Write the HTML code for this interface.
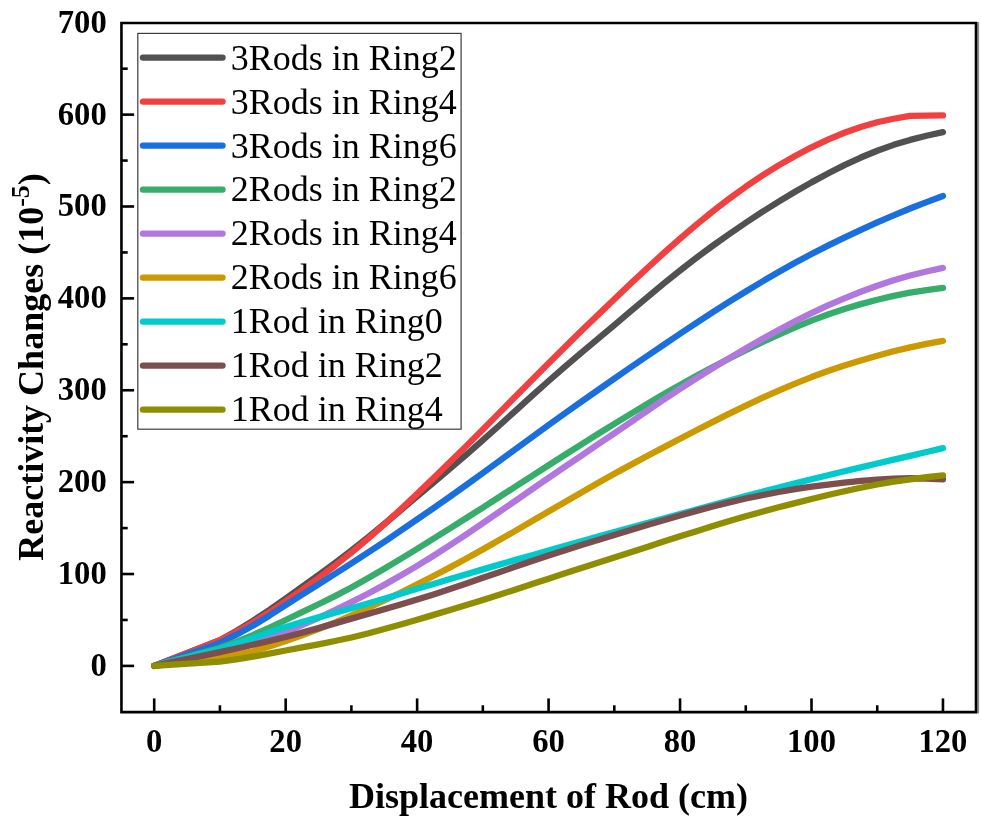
<!DOCTYPE html>
<html><head><meta charset="utf-8"><title>Reactivity Changes</title>
<style>
html,body{margin:0;padding:0;background:#fff;}
body{width:982px;height:822px;overflow:hidden;}
svg{display:block;}
text{font-family:"Liberation Serif","Times New Roman",serif;fill:#000;}
.tk{font-size:32px;font-weight:bold;}
.tt{font-size:36px;font-weight:bold;}
.lg{font-size:36px;}
</style></head><body>
<svg width="982" height="822" viewBox="0 0 982 822">
<rect x="0" y="0" width="982" height="822" fill="#ffffff"/>

<g fill="none" stroke-width="6.30" stroke-linecap="round" stroke-linejoin="round">
<path stroke="#515151" d="M154.20 665.90 L219.93 640.21 L236.36 630.88 L252.79 620.94 L269.23 610.00 L285.66 598.46 L302.09 586.84 L318.52 575.10 L334.96 563.06 L351.39 550.57 L367.82 537.51 L384.25 524.00 L400.69 510.22 L417.12 496.35 L433.55 482.50 L449.99 468.60 L466.42 454.54 L482.85 440.19 L499.28 425.49 L515.72 410.58 L532.15 395.69 L548.58 381.02 L565.01 366.72 L581.44 352.72 L597.88 338.88 L614.31 325.05 L630.74 311.15 L647.17 297.31 L663.61 283.68 L680.04 270.46 L696.47 257.77 L712.90 245.61 L729.34 233.95 L745.77 222.75 L762.20 211.98 L778.63 201.66 L795.07 191.79 L811.50 182.38 L827.93 173.46 L844.37 165.13 L860.80 157.52 L877.23 150.72 L893.66 144.85 L910.10 139.90 L926.53 135.77 L942.96 132.10"/>
<path stroke="#F14040" d="M154.20 665.90 L219.93 640.21 L236.36 631.67 L252.79 622.50 L269.23 612.25 L285.66 601.22 L302.09 589.80 L318.52 577.98 L334.96 565.62 L351.39 552.59 L367.82 538.80 L384.25 524.33 L400.69 509.31 L417.12 493.87 L433.55 478.12 L449.99 462.11 L466.42 445.88 L482.85 429.46 L499.28 412.90 L515.72 396.28 L532.15 379.69 L548.58 363.22 L565.01 346.94 L581.44 330.85 L597.88 314.94 L614.31 299.18 L630.74 283.57 L647.17 268.20 L663.61 253.18 L680.04 238.62 L696.47 224.62 L712.90 211.26 L729.34 198.59 L745.77 186.69 L762.20 175.61 L778.63 165.36 L795.07 155.93 L811.50 147.33 L827.93 139.57 L844.37 132.73 L860.80 126.93 L877.23 122.28 L893.66 118.76 L910.10 115.86 L942.96 115.40"/>
<path stroke="#1A6FDF" d="M154.20 665.90 L219.93 642.96 L236.36 634.66 L252.79 625.71 L269.23 615.71 L285.66 605.16 L302.09 594.68 L318.52 584.30 L334.96 573.92 L351.39 563.42 L367.82 552.71 L384.25 541.80 L400.69 530.71 L417.12 519.47 L433.55 508.08 L449.99 496.55 L466.42 484.87 L482.85 473.04 L499.28 461.07 L515.72 449.03 L532.15 437.00 L548.58 425.06 L565.01 413.26 L581.44 401.61 L597.88 390.07 L614.31 378.63 L630.74 367.26 L647.17 355.99 L663.61 344.81 L680.04 333.76 L696.47 322.87 L712.90 312.15 L729.34 301.67 L745.77 291.47 L762.20 281.58 L778.63 272.02 L795.07 262.84 L811.50 254.03 L827.93 245.63 L844.37 237.60 L860.80 229.89 L877.23 222.47 L893.66 215.32 L910.10 208.53 L926.53 202.13 L942.96 195.96"/>
<path stroke="#37AD6B" d="M154.20 665.90 L219.93 647.73 L236.36 641.63 L252.79 635.07 L269.23 627.77 L285.66 620.02 L302.09 612.21 L318.52 604.27 L334.96 596.06 L351.39 587.45 L367.82 578.34 L384.25 568.78 L400.69 558.91 L417.12 548.83 L433.55 538.64 L449.99 528.36 L466.42 518.00 L482.85 507.54 L499.28 497.00 L515.72 486.41 L532.15 475.81 L548.58 465.24 L565.01 454.75 L581.44 444.34 L597.88 434.04 L614.31 423.86 L630.74 413.83 L647.17 403.97 L663.61 394.34 L680.04 384.96 L696.47 375.88 L712.90 367.08 L729.34 358.55 L745.77 350.28 L762.20 342.27 L778.63 334.59 L795.07 327.35 L811.50 320.64 L827.93 314.54 L844.37 309.04 L860.80 304.11 L877.23 299.73 L893.66 295.87 L910.10 292.66 L926.53 290.13 L942.96 287.98"/>
<path stroke="#B177DE" d="M154.20 665.90 L219.93 654.43 L236.36 649.58 L252.79 644.34 L269.23 638.43 L285.66 631.95 L302.09 625.07 L318.52 617.81 L334.96 610.17 L351.39 602.13 L367.82 593.70 L384.25 584.87 L400.69 575.60 L417.12 565.89 L433.55 555.74 L449.99 545.20 L466.42 534.34 L482.85 523.23 L499.28 511.93 L515.72 500.54 L532.15 489.14 L548.58 477.81 L565.01 466.63 L581.44 455.53 L597.88 444.45 L614.31 433.31 L630.74 422.08 L647.17 410.84 L663.61 399.71 L680.04 388.81 L696.47 378.25 L712.90 368.02 L729.34 358.10 L745.77 348.44 L762.20 339.06 L778.63 330.00 L795.07 321.33 L811.50 313.12 L827.93 305.44 L844.37 298.30 L860.80 291.71 L877.23 285.69 L893.66 280.25 L910.10 275.50 L926.53 271.49 L942.96 267.89"/>
<path stroke="#CC9900" d="M154.20 665.90 L219.93 658.10 L236.36 654.94 L252.79 651.22 L269.23 646.55 L285.66 641.13 L302.09 635.24 L318.52 628.96 L334.96 622.32 L351.39 615.35 L367.82 608.05 L384.25 600.46 L400.69 592.58 L417.12 584.43 L433.55 576.02 L449.99 567.37 L466.42 558.48 L482.85 549.38 L499.28 540.07 L515.72 530.62 L532.15 521.07 L548.58 511.48 L565.01 501.92 L581.44 492.43 L597.88 483.06 L614.31 473.87 L630.74 464.88 L647.17 456.08 L663.61 447.40 L680.04 438.82 L696.47 430.29 L712.90 421.87 L729.34 413.62 L745.77 405.61 L762.20 397.89 L778.63 390.52 L795.07 383.56 L811.50 377.07 L827.93 371.08 L844.37 365.55 L860.80 360.44 L877.23 355.69 L893.66 351.29 L910.10 347.34 L926.53 343.93 L942.96 340.83"/>
<path stroke="#00CBCC" d="M154.20 665.90 L219.93 648.93 L236.36 643.63 L252.79 638.19 L269.23 632.57 L285.66 627.09 L302.09 622.05 L318.52 617.35 L334.96 612.83 L351.39 608.28 L367.82 603.57 L384.25 598.72 L400.69 593.78 L417.12 588.83 L433.55 583.91 L449.99 579.03 L466.42 574.18 L482.85 569.38 L499.28 564.61 L515.72 559.87 L532.15 555.16 L548.58 550.48 L565.01 545.81 L581.44 541.18 L597.88 536.58 L614.31 532.04 L630.74 527.55 L647.17 523.09 L663.61 518.63 L680.04 514.15 L696.47 509.61 L712.90 505.05 L729.34 500.52 L745.77 496.07 L762.20 491.73 L778.63 487.50 L795.07 483.36 L811.50 479.28 L827.93 475.25 L844.37 471.28 L860.80 467.36 L877.23 463.50 L893.66 459.69 L910.10 455.88 L926.53 452.04 L942.96 448.18"/>
<path stroke="#7D4E4E" d="M154.20 665.90 L219.93 652.14 L236.36 648.49 L252.79 644.80 L269.23 641.01 L285.66 637.00 L302.09 632.67 L318.52 628.10 L334.96 623.38 L351.39 618.65 L367.82 613.97 L384.25 609.28 L400.69 604.51 L417.12 599.56 L433.55 594.38 L449.99 588.98 L466.42 583.45 L482.85 577.82 L499.28 572.17 L515.72 566.53 L532.15 560.97 L548.58 555.52 L565.01 550.23 L581.44 545.07 L597.88 539.99 L614.31 534.97 L630.74 529.98 L647.17 525.03 L663.61 520.17 L680.04 515.43 L696.47 510.85 L712.90 506.47 L729.34 502.35 L745.77 498.55 L762.20 495.10 L778.63 491.99 L795.07 489.20 L811.50 486.71 L827.93 484.51 L844.37 482.59 L860.80 480.97 L877.23 479.65 L893.66 478.68 L910.10 478.27 L926.53 478.57 L942.96 479.28"/>
<path stroke="#8E8E00" d="M154.20 665.90 L219.93 661.68 L236.36 659.33 L252.79 656.73 L269.23 653.69 L285.66 650.49 L302.09 647.38 L318.52 644.28 L334.96 641.03 L351.39 637.46 L367.82 633.44 L384.25 629.05 L400.69 624.42 L417.12 619.66 L433.55 614.87 L449.99 610.03 L466.42 605.09 L482.85 600.02 L499.28 594.79 L515.72 589.44 L532.15 584.03 L548.58 578.65 L565.01 573.33 L581.44 568.06 L597.88 562.81 L614.31 557.54 L630.74 552.25 L647.17 546.93 L663.61 541.62 L680.04 536.35 L696.47 531.13 L712.90 526.02 L729.34 521.04 L745.77 516.26 L762.20 511.68 L778.63 507.30 L795.07 503.09 L811.50 499.01 L827.93 495.04 L844.37 491.26 L860.80 487.72 L877.23 484.51 L893.66 481.69 L910.10 479.28 L926.53 477.25 L942.96 475.43"/>
</g>
<rect x="977.2" y="22.0" width="1.9" height="691.4" fill="#8c8c8c"/>
<g stroke="#000" stroke-width="2.60" fill="none" stroke-linecap="butt">
<path d="M121.45 23.00 H976.00 V712.10 H121.45 Z"/>
<path d="M154.20 712.10 V698.40"/>
<path d="M219.93 712.10 V705.30"/>
<path d="M285.66 712.10 V698.40"/>
<path d="M351.39 712.10 V705.30"/>
<path d="M417.12 712.10 V698.40"/>
<path d="M482.85 712.10 V705.30"/>
<path d="M548.58 712.10 V698.40"/>
<path d="M614.31 712.10 V705.30"/>
<path d="M680.04 712.10 V698.40"/>
<path d="M745.77 712.10 V705.30"/>
<path d="M811.50 712.10 V698.40"/>
<path d="M877.23 712.10 V705.30"/>
<path d="M942.96 712.10 V698.40"/>
<path d="M121.45 665.90 H134.10"/>
<path d="M121.45 619.96 H127.70"/>
<path d="M121.45 574.02 H134.10"/>
<path d="M121.45 528.08 H127.70"/>
<path d="M121.45 482.14 H134.10"/>
<path d="M121.45 436.20 H127.70"/>
<path d="M121.45 390.26 H134.10"/>
<path d="M121.45 344.32 H127.70"/>
<path d="M121.45 298.38 H134.10"/>
<path d="M121.45 252.44 H127.70"/>
<path d="M121.45 206.50 H134.10"/>
<path d="M121.45 160.56 H127.70"/>
<path d="M121.45 114.62 H134.10"/>
<path d="M121.45 68.68 H127.70"/>
</g>
<text class="tk" transform="translate(154.20 751.8) scale(1.02 1.045)" text-anchor="middle">0</text>
<text class="tk" transform="translate(285.66 751.8) scale(1.02 1.045)" text-anchor="middle">20</text>
<text class="tk" transform="translate(417.12 751.8) scale(1.02 1.045)" text-anchor="middle">40</text>
<text class="tk" transform="translate(548.58 751.8) scale(1.02 1.045)" text-anchor="middle">60</text>
<text class="tk" transform="translate(680.04 751.8) scale(1.02 1.045)" text-anchor="middle">80</text>
<text class="tk" transform="translate(811.50 751.8) scale(1.02 1.045)" text-anchor="middle">100</text>
<text class="tk" transform="translate(942.96 751.8) scale(1.02 1.045)" text-anchor="middle">120</text>
<text class="tk" transform="translate(106.7 675.80) scale(1.02 1.045)" text-anchor="end">0</text>
<text class="tk" transform="translate(106.7 583.92) scale(1.02 1.045)" text-anchor="end">100</text>
<text class="tk" transform="translate(106.7 492.04) scale(1.02 1.045)" text-anchor="end">200</text>
<text class="tk" transform="translate(106.7 400.16) scale(1.02 1.045)" text-anchor="end">300</text>
<text class="tk" transform="translate(106.7 308.28) scale(1.02 1.045)" text-anchor="end">400</text>
<text class="tk" transform="translate(106.7 216.40) scale(1.02 1.045)" text-anchor="end">500</text>
<text class="tk" transform="translate(106.7 124.52) scale(1.02 1.045)" text-anchor="end">600</text>
<text class="tk" transform="translate(106.7 32.64) scale(1.02 1.045)" text-anchor="end">700</text>
<text class="tt" x="548.5" y="808.4" text-anchor="middle">Displacement of Rod (cm)</text>
<text class="tt" transform="translate(42.5 367) rotate(-90)" text-anchor="middle">Reactivity Changes (10<tspan font-size="26" dy="-14">-5</tspan><tspan dy="14">)</tspan></text>
<rect x="137.8" y="33.4" width="323.3" height="395.8" fill="#fff" stroke="#3c3c3c" stroke-width="1.2"/>
<g stroke-width="6.4" stroke-linecap="round">
<path stroke="#515151" d="M143 57.60 H222.5"/>
<path stroke="#F14040" d="M143 101.60 H222.5"/>
<path stroke="#1A6FDF" d="M143 145.60 H222.5"/>
<path stroke="#37AD6B" d="M143 189.60 H222.5"/>
<path stroke="#B177DE" d="M143 233.60 H222.5"/>
<path stroke="#CC9900" d="M143 277.60 H222.5"/>
<path stroke="#00CBCC" d="M143 321.60 H222.5"/>
<path stroke="#7D4E4E" d="M143 365.60 H222.5"/>
<path stroke="#8E8E00" d="M143 409.60 H222.5"/>
</g>
<text class="lg" x="230.8" y="69.70">3Rods in Ring2</text>
<text class="lg" x="230.8" y="113.60">3Rods in Ring4</text>
<text class="lg" x="230.8" y="157.50">3Rods in Ring6</text>
<text class="lg" x="230.8" y="201.40">2Rods in Ring2</text>
<text class="lg" x="230.8" y="245.30">2Rods in Ring4</text>
<text class="lg" x="230.8" y="289.20">2Rods in Ring6</text>
<text class="lg" x="230.8" y="333.10">1Rod in Ring0</text>
<text class="lg" x="230.8" y="377.00">1Rod in Ring2</text>
<text class="lg" x="230.8" y="420.90">1Rod in Ring4</text>
</svg></body></html>
